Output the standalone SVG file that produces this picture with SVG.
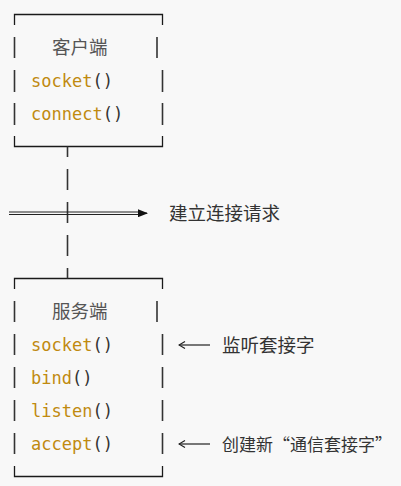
<svg xmlns="http://www.w3.org/2000/svg" width="401" height="486" viewBox="0 0 401 486">
<defs>
<style>
.bg{fill:#f8f8f8}
.h{stroke:#1a1a1a;stroke-width:1.3;fill:none}
.v{stroke:#333;stroke-width:1.6;fill:none}
.code{font-family:"DejaVu Sans Mono","Liberation Mono",monospace;font-size:17px}
.fn{fill:#c08a10}
.p{fill:#333}
.title{font-family:"Noto Sans CJK SC",sans-serif;font-size:18.5px;fill:#555}
.note{font-family:"Noto Sans CJK SC",sans-serif;font-size:18.5px;fill:#333}
.ln{stroke:#222;stroke-width:1.2;fill:none}
</style>
<marker id="tri" viewBox="0 0 10 8" refX="9" refY="4" markerWidth="10" markerHeight="8" markerUnits="userSpaceOnUse" orient="auto">
<path d="M0,0 L10,4 L0,8 Z" fill="#111"/>
</marker>
<marker id="open" viewBox="0 0 8 8" refX="1" refY="4" markerWidth="8" markerHeight="8" markerUnits="userSpaceOnUse" orient="auto">
<path d="M7,0.5 L1,4 L7,7.5" fill="none" stroke="#222" stroke-width="1.2"/>
</marker>
</defs>
<rect class="bg" x="0" y="0" width="401" height="486"/>

<g id="client">
<path class="h" d="M14.5,25 V14.5 H162.5 V25"/>
<path class="h" d="M14.5,136 V146.5 H162.5 V136"/>
<line class="v" x1="14.5" y1="37" x2="14.5" y2="58"/>
<line class="v" x1="157" y1="37" x2="157" y2="58"/>
<line class="v" x1="14.5" y1="70" x2="14.5" y2="92"/>
<line class="v" x1="162.5" y1="70" x2="162.5" y2="92"/>
<line class="v" x1="14.5" y1="103" x2="14.5" y2="125"/>
<line class="v" x1="162.5" y1="103" x2="162.5" y2="125"/>
<text class="title" x="52" y="54">客户端</text>
<text class="code" x="31" y="87"><tspan class="fn">socket</tspan><tspan class="p">()</tspan></text>
<text class="code" x="31" y="120"><tspan class="fn">connect</tspan><tspan class="p">()</tspan></text>
</g>

<g id="server">
<path class="h" d="M14.5,289 V278.5 H162.5 V289"/>
<path class="h" d="M14.5,466 V476.5 H162.5 V466"/>
<line class="v" x1="14.5" y1="301" x2="14.5" y2="322"/>
<line class="v" x1="157" y1="301" x2="157" y2="322"/>
<line class="v" x1="14.5" y1="334" x2="14.5" y2="355"/>
<line class="v" x1="162.5" y1="334" x2="162.5" y2="355"/>
<line class="v" x1="14.5" y1="367" x2="14.5" y2="388"/>
<line class="v" x1="162.5" y1="367" x2="162.5" y2="388"/>
<line class="v" x1="14.5" y1="400" x2="14.5" y2="421"/>
<line class="v" x1="162.5" y1="400" x2="162.5" y2="421"/>
<line class="v" x1="14.5" y1="433" x2="14.5" y2="454"/>
<line class="v" x1="162.5" y1="433" x2="162.5" y2="454"/>
<text class="title" x="52" y="318">服务端</text>
<text class="code" x="31" y="351"><tspan class="fn">socket</tspan><tspan class="p">()</tspan></text>
<text class="code" x="31" y="384"><tspan class="fn">bind</tspan><tspan class="p">()</tspan></text>
<text class="code" x="31" y="417"><tspan class="fn">listen</tspan><tspan class="p">()</tspan></text>
<text class="code" x="31" y="450"><tspan class="fn">accept</tspan><tspan class="p">()</tspan></text>
</g>

<g id="connectors">
<line class="v" x1="67.5" y1="146.5" x2="67.5" y2="157"/>
<line class="v" x1="67.5" y1="169" x2="67.5" y2="190"/>
<line class="v" x1="67.5" y1="202" x2="67.5" y2="223"/>
<line class="v" x1="67.5" y1="235" x2="67.5" y2="256"/>
<line class="v" x1="67.5" y1="268" x2="67.5" y2="278.5"/>
<line class="ln" x1="9" y1="212" x2="140" y2="212"/>
<line class="ln" x1="9" y1="214.5" x2="140" y2="214.5"/>
<line class="ln" x1="138" y1="213.2" x2="147" y2="213.2" marker-end="url(#tri)"/>
<line class="ln" x1="179" y1="345" x2="210" y2="345" marker-start="url(#open)"/>
<line class="ln" x1="179" y1="444" x2="210" y2="444" marker-start="url(#open)"/>
</g>

<g id="labels">
<text class="note" x="169" y="220">建立连接请求</text>
<text class="note" x="222" y="352">监听套接字</text>
<text class="note" x="222" y="451" style="font-size:17px">创建新“通信套接字”</text>
</g>
</svg>
